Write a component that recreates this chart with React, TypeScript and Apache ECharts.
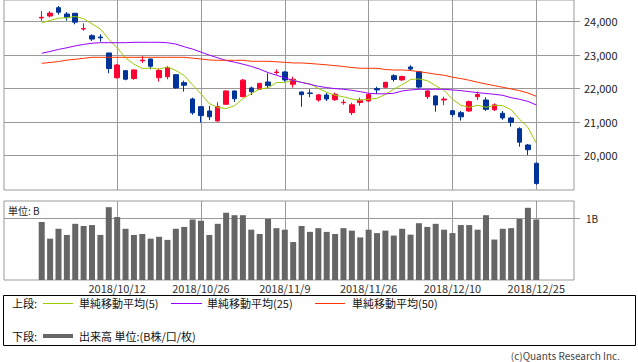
import React, { useEffect, useRef } from "react";
import * as echarts from "echarts";

const dates = [
  "2018/9/28", "2018/10/1", "2018/10/2", "2018/10/3", "2018/10/4", "2018/10/5", "2018/10/9", "2018/10/10", "2018/10/11", "2018/10/12",
  "2018/10/15", "2018/10/16", "2018/10/17", "2018/10/18", "2018/10/19", "2018/10/22", "2018/10/23", "2018/10/24", "2018/10/25", "2018/10/26",
  "2018/10/29", "2018/10/30", "2018/10/31", "2018/11/1", "2018/11/2", "2018/11/5", "2018/11/6", "2018/11/7", "2018/11/8", "2018/11/9",
  "2018/11/12", "2018/11/13", "2018/11/14", "2018/11/15", "2018/11/16", "2018/11/19", "2018/11/20", "2018/11/21", "2018/11/22", "2018/11/26",
  "2018/11/27", "2018/11/28", "2018/11/29", "2018/11/30", "2018/12/3", "2018/12/4", "2018/12/5", "2018/12/6", "2018/12/7", "2018/12/10",
  "2018/12/11", "2018/12/12", "2018/12/13", "2018/12/14", "2018/12/17", "2018/12/18", "2018/12/19", "2018/12/20", "2018/12/21", "2018/12/25",
];

const labelDates = ["2018/10/12", "2018/10/26", "2018/11/9", "2018/11/26", "2018/12/10", "2018/12/25"];

const opens = [
  24100, 24158, 24406, 24218, 24239, 23770, 23570, 23531, 23054, 22316,
  22525, 22290, 22820, 22875, 22316, 22346, 22406, 22168, 21681, 21451,
  21322, 21024, 21522, 21920, 21750, 22009, 21970, 22188, 22470, 22487,
  22119, 21890, 21860, 21650, 21800, 21660, 21570, 21272, 21575, 21621,
  21990, 22030, 22376, 22250, 22636, 22496, 21750, 21770, 21650, 21331,
  21272, 21322, 21750, 21650, 21360, 21254, 21113, 20794, 20307, 19761,
];
const closes = [
  24120, 24245, 24270, 24110, 23975, 23783, 23469, 23506, 22590, 22694,
  22271, 22549, 22841, 22658, 22532, 22614, 22010, 22091, 21268, 21184,
  21149, 21457, 21920, 21687, 22243, 21898, 22147, 22085, 22486, 22250,
  22269, 21810, 21846, 21803, 21680, 21821, 21583, 21507, 21646, 21812,
  21952, 22177, 22262, 22351, 22574, 22036, 21919, 21501, 21678, 21219,
  21148, 21602, 21816, 21374, 21506, 21115, 20987, 20392, 20166, 19155,
];
const lows = [
  24018, 24120, 24197, 24018, 23910, 23719, 23412, 23390, 22448, 22290,
  22240, 22250, 22760, 22570, 22197, 22269, 21990, 21900, 21210, 20971,
  21054, 21003, 21500, 21591, 21730, 21800, 21960, 22000, 22406, 22200,
  22019, 21450, 21731, 21600, 21620, 21620, 21510, 21203, 21480, 21600,
  21830, 22000, 22197, 22220, 22516, 21990, 21681, 21302, 21493, 21150,
  21033, 21300, 21650, 21322, 21320, 21060, 20854, 20256, 20006, 19117,
];
const highs = [
  24307, 24307, 24457, 24278, 24250, 23940, 23612, 23612, 23060, 22720,
  22540, 22560, 22960, 22880, 22597, 22666, 22420, 22227, 21720, 21472,
  21472, 21582, 21940, 21930, 22280, 22049, 22160, 22448, 22567, 22510,
  22346, 21900, 21970, 21830, 21860, 21870, 21670, 21570, 21720, 21860,
  22048, 22197, 22418, 22380, 22686, 22520, 21950, 21800, 21750, 21350,
  21322, 21630, 21900, 21730, 21550, 21322, 21152, 20836, 20337, 19785,
];

const ma5 = [
  23952, 24027, 24093, 24108, 24144, 24077, 23921, 23769, 23465, 23208,
  22906, 22722, 22589, 22603, 22570, 22639, 22531, 22381, 22103, 21833,
  21540, 21430, 21396, 21479, 21691, 21841, 21979, 22012, 22172, 22173,
  22247, 22180, 22132, 21996, 21882, 21792, 21747, 21679, 21647, 21674,
  21700, 21819, 21970, 22111, 22263, 22280, 22228, 22076, 21942, 21671,
  21493, 21430, 21493, 21432, 21489, 21483, 21360, 21075, 20833, 20363,
];
const ma25 = [
  23045, 23100, 23160, 23210, 23265, 23310, 23345, 23361, 23361, 23361,
  23361, 23373, 23373, 23373, 23373, 23360, 23320, 23240, 23170, 23080,
  22990, 22910, 22830, 22780, 22720, 22655, 22570, 22470, 22390, 22310,
  22230, 22175, 22120, 22060, 22020, 21990, 21970, 21940, 21900, 21850,
  21835, 21835, 21851, 21920, 21950, 21970, 21970, 21970, 21970, 21950,
  21930, 21900, 21870, 21845, 21820, 21790, 21720, 21670, 21610, 21501,
];
const ma50 = [
  22746, 22770, 22800, 22840, 22866, 22895, 22925, 22925, 22925, 22925,
  22925, 22925, 22925, 22925, 22925, 22925, 22925, 22925, 22900, 22875,
  22845, 22836, 22836, 22836, 22836, 22806, 22806, 22806, 22790, 22776,
  22756, 22756, 22740, 22720, 22700, 22676, 22650, 22620, 22597, 22597,
  22597, 22560, 22546, 22546, 22530, 22497, 22460, 22420, 22390, 22330,
  22290, 22240, 22180, 22128, 22080, 22030, 21980, 21928, 21860, 21760,
];

const volumes = [
  0.94, 0.67, 0.83, 0.73, 0.91, 0.875, 0.89, 0.73, 1.18, 1.02,
  0.83, 0.73, 0.745, 0.67, 0.7, 0.65, 0.83, 0.86, 0.98, 0.96,
  0.73, 0.91, 1.09, 1.05, 1.05, 0.815, 0.745, 0.99, 0.84, 0.815,
  0.615, 0.875, 0.78, 0.84, 0.78, 0.745, 0.84, 0.8, 0.69, 0.815,
  0.76, 0.8, 0.72, 0.83, 0.735, 0.92, 0.86, 0.91, 0.815, 0.76,
  0.89, 0.89, 0.815, 1.05, 0.655, 0.83, 0.84, 0.99, 1.17, 0.98,
];

const priceTicks = [20000, 21000, 22000, 23000, 24000];
const volumeTicks = [1];

const LEAD = 4;
const TRAIL = 4;

const FONT = '"Noto Sans CJK JP", "DejaVu Sans", sans-serif';
const GRID_COLOR = "#999999";
const UP = "#ff0033";
const DOWN = "#003399";
const C_MA5 = "#99cc00";
const C_MA25 = "#9900ff";
const C_MA50 = "#ff3300";

function pad(arr: any[]) {
  return [...Array(LEAD).fill("-"), ...arr, ...Array(TRAIL).fill("-")];
}

export default function App() {
  const ref = useRef<HTMLDivElement>(null);

  useEffect(() => {
    document.body.style.margin = "0";
    if (!ref.current) return;
    const chart = echarts.init(ref.current, undefined, { renderer: "svg" });

    const cats = [
      ...Array.from({ length: LEAD }, (_, i) => "lead" + i),
      ...dates,
      ...Array.from({ length: TRAIL }, (_, i) => "trail" + i),
    ];
    const labelSet = new Set(labelDates);
    const candle = pad(dates.map((_, i) => [opens[i], closes[i], lows[i], highs[i]]));
    const isLabel = (_i: number, v: string) => labelSet.has(v);

    const splitLine = {
      show: true,
      interval: isLabel,
      alignWithLabel: true,
      lineStyle: { color: GRID_COLOR, width: 1 },
    };

    const option: any = {
      animation: false,
      backgroundColor: "#ffffff",
      grid: [
        { left: 4, right: 64, top: 0, height: 190, show: true, borderColor: GRID_COLOR, borderWidth: 1 },
        { left: 4, right: 64, top: 201, height: 79, show: true, borderColor: GRID_COLOR, borderWidth: 1 },
      ],
      xAxis: [
        {
          type: "category",
          gridIndex: 0,
          data: cats,
          boundaryGap: true,
          axisLine: { show: false },
          axisTick: { show: false },
          axisLabel: { show: false },
          splitLine,
        },
        {
          type: "category",
          gridIndex: 1,
          data: cats,
          boundaryGap: true,
          axisLine: { show: false },
          axisTick: { show: false },
          axisLabel: {
            show: true,
            interval: isLabel,
            color: "#333333",
            fontSize: 11,
            fontFamily: FONT,
            margin: 2,
          },
          splitLine,
        },
      ],
      yAxis: [
        {
          type: "value",
          gridIndex: 0,
          position: "right",
          min: 18963,
          max: 24636,
          axisLine: { show: false },
          axisTick: { show: true, length: 6, lineStyle: { color: GRID_COLOR }, customValues: priceTicks },
          axisLabel: {
            customValues: priceTicks,
            formatter: (v: number) => v.toLocaleString("en-US"),
            color: "#222222",
            fontSize: 11,
            fontFamily: FONT,
            margin: 10,
          },
          splitLine: { show: true, lineStyle: { color: GRID_COLOR, width: 1 } },
        },
        {
          type: "value",
          gridIndex: 1,
          position: "right",
          min: 0,
          max: 1.28,
          axisLine: { show: false },
          axisTick: { show: true, length: 6, lineStyle: { color: GRID_COLOR }, customValues: volumeTicks },
          axisLabel: {
            customValues: volumeTicks,
            formatter: (v: number) => v + "B",
            color: "#222222",
            fontSize: 10,
            fontFamily: FONT,
            margin: 12,
          },
          splitLine: { show: true, lineStyle: { color: GRID_COLOR, width: 1 } },
        },
      ],
      series: [
        {
          type: "candlestick",
          xAxisIndex: 0,
          yAxisIndex: 0,
          data: candle,
          barWidth: 5,
          itemStyle: { color: UP, color0: DOWN, borderColor: UP, borderColor0: DOWN, borderWidth: 1 },
        },
        {
          type: "line",
          xAxisIndex: 0,
          yAxisIndex: 0,
          data: pad(ma5),
          symbol: "none",
          lineStyle: { color: C_MA5, width: 1 },
          itemStyle: { color: C_MA5 },
          z: 3,
        },
        {
          type: "line",
          xAxisIndex: 0,
          yAxisIndex: 0,
          data: pad(ma25),
          symbol: "none",
          lineStyle: { color: C_MA25, width: 1 },
          itemStyle: { color: C_MA25 },
          z: 3,
        },
        {
          type: "line",
          xAxisIndex: 0,
          yAxisIndex: 0,
          data: pad(ma50),
          symbol: "none",
          lineStyle: { color: C_MA50, width: 1 },
          itemStyle: { color: C_MA50 },
          z: 3,
        },
        {
          type: "bar",
          xAxisIndex: 1,
          yAxisIndex: 1,
          data: pad(volumes),
          barWidth: 6,
          itemStyle: { color: "#666666" },
        },
      ],
      graphic: [
        {
          type: "text",
          x: 8,
          y: 210,
          style: { text: "単位: B", font: `10px ${FONT}`, fill: "#222222", verticalAlign: "middle" },
        },
        {
          type: "rect",
          shape: { x: 3.5, y: 295.5, width: 632, height: 50 },
          style: { fill: "none", stroke: "#000000", lineWidth: 1 },
        },
        { type: "text", x: 12, y: 303, style: { text: "上段:", font: `11px ${FONT}`, fill: "#111111", verticalAlign: "middle" } },
        { type: "line", shape: { x1: 43, y1: 303.5, x2: 73, y2: 303.5 }, style: { stroke: C_MA5, lineWidth: 1 } },
        { type: "text", x: 79, y: 303, style: { text: "単純移動平均(5)", font: `11px ${FONT}`, fill: "#111111", verticalAlign: "middle" } },
        { type: "line", shape: { x1: 171, y1: 303.5, x2: 202, y2: 303.5 }, style: { stroke: C_MA25, lineWidth: 1 } },
        { type: "text", x: 207, y: 303, style: { text: "単純移動平均(25)", font: `11px ${FONT}`, fill: "#111111", verticalAlign: "middle" } },
        { type: "line", shape: { x1: 315, y1: 303.5, x2: 345, y2: 303.5 }, style: { stroke: C_MA50, lineWidth: 1 } },
        { type: "text", x: 352, y: 303, style: { text: "単純移動平均(50)", font: `11px ${FONT}`, fill: "#111111", verticalAlign: "middle" } },
        { type: "text", x: 12, y: 336, style: { text: "下段:", font: `11px ${FONT}`, fill: "#111111", verticalAlign: "middle" } },
        { type: "line", shape: { x1: 43, y1: 336, x2: 73, y2: 336 }, style: { stroke: "#666666", lineWidth: 4 } },
        { type: "text", x: 79, y: 336, style: { text: "出来高 単位:(B株/口/枚)", font: `11px ${FONT}`, fill: "#111111", verticalAlign: "middle" } },
        {
          type: "text",
          x: 620,
          y: 355,
          style: { text: "(c)Quants Research Inc.", font: `10px ${FONT}`, fill: "#444444", align: "right", verticalAlign: "middle" },
        },
      ],
    };

    chart.setOption(option);
    return () => chart.dispose();
  }, []);

  return <div ref={ref} style={{ width: 638, height: 362 }} />;
}
